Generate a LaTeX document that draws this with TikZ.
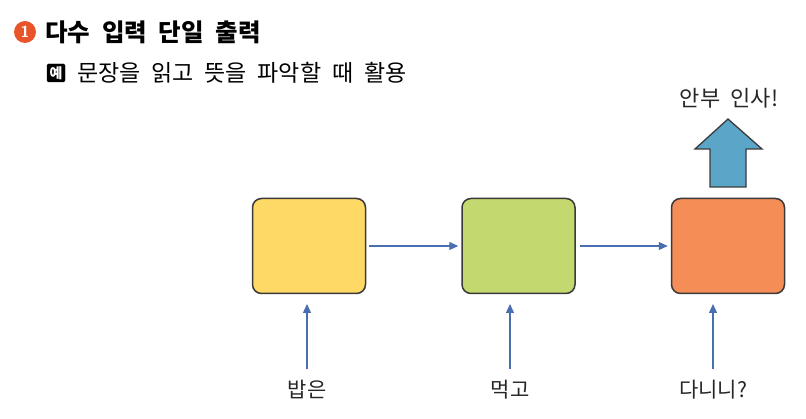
\documentclass[tikz,border=0pt]{standalone}
\usepackage{fontspec}
\newfontfamily\kr{Noto Sans CJK KR}
\newfontfamily\krw[WordSpace=2.1]{Noto Sans CJK KR}
\usetikzlibrary{arrows.meta}
\definecolor{cyel}{HTML}{FFD966}
\definecolor{cgrn}{HTML}{C3D96F}
\definecolor{corg}{HTML}{F58D56}
\definecolor{cblu}{HTML}{5AA5C8}
\definecolor{cline}{HTML}{4A6FB0}
\definecolor{cnum}{HTML}{E8552B}
\definecolor{cbord}{HTML}{3A3A3A}
\tikzset{
  cell/.style={draw=cbord, line width=1.5pt, rounded corners=9pt, minimum width=113pt, minimum height=95pt, inner sep=0pt},
  conn/.style={draw=cline, line width=1.3pt, -{Triangle[length=9pt,width=8pt]}},
  lbl/.style={font=\kr\fontsize{21}{21}\selectfont, text=black!85, inner sep=1pt},
}
\begin{document}
\begin{tikzpicture}[x=1pt,y=-1pt]
\useasboundingbox (0,0) rectangle (806,419);
% title
\node[circle, fill=cnum, minimum size=22pt, inner sep=0pt, text=white, font=\sffamily\bfseries\fontsize{16}{16}\selectfont] (num) at (25,32) {1};
\node[anchor=west, inner sep=0pt, font=\kr\bfseries\fontsize{24.5}{24.5}\selectfont] (title) at (45,32) {다수 입력 단일 출력};
\node[draw=black, fill=black, rounded corners=1.5pt, minimum width=18pt, minimum height=18pt, inner sep=0pt, text=white, font=\kr\bfseries\fontsize{14}{14}\selectfont] (ye) at (56,73) {예};
\node[anchor=west, inner sep=0pt, font=\krw\fontsize{23}{23}\selectfont] (sub) at (77,73) {문장을 읽고 뜻을 파악할 때 활용};
% cells
\node[cell, fill=cyel] (a) at (309,246) {};
\node[cell, fill=cgrn] (b) at (518.5,246) {};
\node[cell, fill=corg] (c) at (728,246) {};
\draw[conn] ([xshift=3pt]a.east) -- ([xshift=-3pt]b.west);
\draw[conn] ([xshift=4pt]b.east) -- ([xshift=-3pt]c.west);
% inputs
\node[lbl] (i1) at (307,390) {밥은};
\node[lbl] (i2) at (510,390) {먹고};
\node[lbl] (i3) at (713,390) {다니니?};
\draw[conn] (307,369) coordinate (p1) -- (307,304);
\draw[conn] (510,369) coordinate (p2) -- (510,304);
\draw[conn] (713,369) coordinate (p3) -- (713,304);
% output arrow
\draw[draw=cbord, line width=1.3pt, fill=cblu, line join=miter]
  (710,187) -- (710,149) -- (695,149) -- (728,119) -- (762,149) -- (746,149) -- (746,187) -- cycle;
\node[lbl, font=\krw\fontsize{22}{22}\selectfont] (out) at (729,98) {안부 인사!};
\end{tikzpicture}
\end{document}
